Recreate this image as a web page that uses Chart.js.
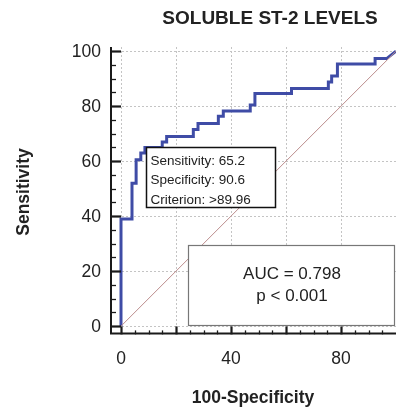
<!DOCTYPE html>
<html>
<head>
<meta charset="utf-8">
<script src="https://cdn.jsdelivr.net/npm/chart.js@4/dist/chart.umd.min.js"></script>
<style>
	body { margin: 0; background: #fff; }
	canvas { display: block; }
</style>
</head>
<body>
<canvas id="roc" width="396" height="408"></canvas>
<script>
// 100-Specificity (x) and Sensitivity (y) of the ROC step curve
const fpr = [0, 0, 4, 4, 5.5, 5.5, 7.2, 7.2, 8.7, 8.7, 15, 15, 16.6, 16.6, 26.3, 26.3, 28, 28, 35.4, 35.4, 37.2, 37.2, 47, 47, 48.7, 48.7, 62, 62, 75.4, 75.4, 76.6, 76.6, 78.7, 78.7, 92.4, 92.4, 96.6, 100];
const tpr = [0, 39, 39, 52, 52, 60.5, 60.5, 63, 63, 65, 65, 67, 67, 69, 69, 71.5, 71.5, 73.7, 73.7, 76.3, 76.3, 78.2, 78.2, 80.4, 80.4, 84.6, 84.6, 86.4, 86.4, 88.8, 88.8, 91, 91, 95.3, 95.3, 97.3, 97.3, 100];
const refX = [0, 100];
const refY = [0, 100];

const gridTicks = [0, 20, 40, 60, 80, 100];
const xTickLabels = [0, 40, 80];
const yTickLabels = [0, 20, 40, 60, 80, 100];

const chartTitle = "SOLUBLE ST-2 LEVELS";
const xTitle = "100-Specificity";
const yTitle = "Sensitivity";
const cutoffText = ["Sensitivity: 65.2", "Specificity: 90.6", "Criterion: >89.96"];
const aucText = ["AUC = 0.798", "p < 0.001"];

const police = "'Liberation Sans', Arial, sans-serif";

const toPoints = (xs, ys) => xs.map((x, i) => ({ x: x, y: ys[i] }));

// axes, tick marks, labels and text boxes
const decor = {
	id: "decor",
	afterDatasetsDraw(chart) {
		const ctx = chart.ctx;
		const a = chart.chartArea;
		const sx = chart.scales.x;
		const sy = chart.scales.y;
		ctx.save();

		// minor + major ticks
		ctx.strokeStyle = "#1a1a1a";
		for (let v = 0; v <= 100; v += 5) {
			const major = v % 20 === 0;
			ctx.lineWidth = major ? 2.2 : 1.3;
			const py = Math.round(sy.getPixelForValue(v)) + 0.5;
			ctx.beginPath();
			ctx.moveTo(a.left, py);
			ctx.lineTo(a.left + (major ? 11 : 6), py);
			ctx.stroke();
			if (v < 100) {
				const px = Math.round(sx.getPixelForValue(v)) + 0.5;
				ctx.beginPath();
				ctx.moveTo(px, a.bottom);
				ctx.lineTo(px, a.bottom - (major ? 8 : 4));
				ctx.stroke();
			}
		}

		// axis lines
		ctx.lineWidth = 2;
		ctx.beginPath();
		ctx.moveTo(a.left + 1, a.top);
		ctx.lineTo(a.left + 1, a.bottom - 1);
		ctx.lineTo(a.right, a.bottom - 1);
		ctx.stroke();

		// tick labels
		ctx.fillStyle = "#222";
		ctx.font = "17.5px " + police;
		ctx.textAlign = "right";
		ctx.textBaseline = "middle";
		for (const v of yTickLabels) {
			ctx.fillText(String(v), 101, sy.getPixelForValue(v) + 1);
		}
		ctx.textAlign = "center";
		for (const v of xTickLabels) {
			ctx.fillText(String(v), sx.getPixelForValue(v), 359);
		}

		// titles
		ctx.font = "bold 19px " + police;
		ctx.fillText(chartTitle, 270, 19);
		ctx.font = "bold 17.5px " + police;
		ctx.fillText(xTitle, 253, 398);
		ctx.save();
		ctx.translate(24, 192);
		ctx.rotate(-Math.PI / 2);
		ctx.font = "bold 17.5px " + police;
		ctx.fillText(yTitle, 0, 0);
		ctx.restore();

		// cutoff box
		ctx.fillStyle = "#fff";
		ctx.fillRect(146, 147, 130, 61);
		ctx.strokeStyle = "#111";
		ctx.lineWidth = 1.5;
		ctx.strokeRect(146.5, 147.5, 129, 60);
		ctx.fillStyle = "#222";
		ctx.font = "13.5px " + police;
		ctx.textAlign = "left";
		cutoffText.forEach((t, i) => ctx.fillText(t, 150.5, 161 + i * 19.5));

		// AUC box
		ctx.fillStyle = "#fff";
		ctx.fillRect(188, 245, 207, 81);
		ctx.strokeStyle = "#777";
		ctx.lineWidth = 1.2;
		ctx.strokeRect(188.5, 245.5, 206, 80);
		ctx.fillStyle = "#222";
		ctx.font = "17px " + police;
		ctx.textAlign = "center";
		aucText.forEach((t, i) => ctx.fillText(t, 292, 274 + i * 22));

		ctx.restore();
	},
};

const grille = {
	display: true,
	drawTicks: false,
	color: "#c4c4c4",
	lineWidth: 1,
};

new Chart(document.querySelector("#roc"), {
	type: "line",
	data: {
		datasets: [
			{
				data: toPoints(refX, refY),
				borderColor: "#bb8c8c",
				borderWidth: 1,
				pointRadius: 0,
				tension: 0,
			},
			{
				data: toPoints(fpr, tpr),
				borderColor: "#3f4ca6",
				borderWidth: 3,
				pointRadius: 0,
				tension: 0,
			},
		],
	},
	options: {
		responsive: false,
		animation: false,
		devicePixelRatio: 1,
		layout: { padding: { left: 110, right: 0, top: 47, bottom: 73.6 } },
		plugins: { legend: { display: false }, tooltip: { enabled: false } },
		scales: {
			x: {
				type: "linear",
				min: -4,
				max: 100,
				grid: grille,
				border: { display: false, dash: [2, 2] },
				ticks: { display: false },
				afterBuildTicks: (s) => { s.ticks = gridTicks.map((v) => ({ value: v })); },
			},
			y: {
				type: "linear",
				min: -3,
				max: 101.5,
				grid: grille,
				border: { display: false, dash: [2, 2] },
				ticks: { display: false },
				afterBuildTicks: (s) => { s.ticks = gridTicks.map((v) => ({ value: v })); },
			},
		},
	},
	plugins: [decor],
});
</script>
</body>
</html>
